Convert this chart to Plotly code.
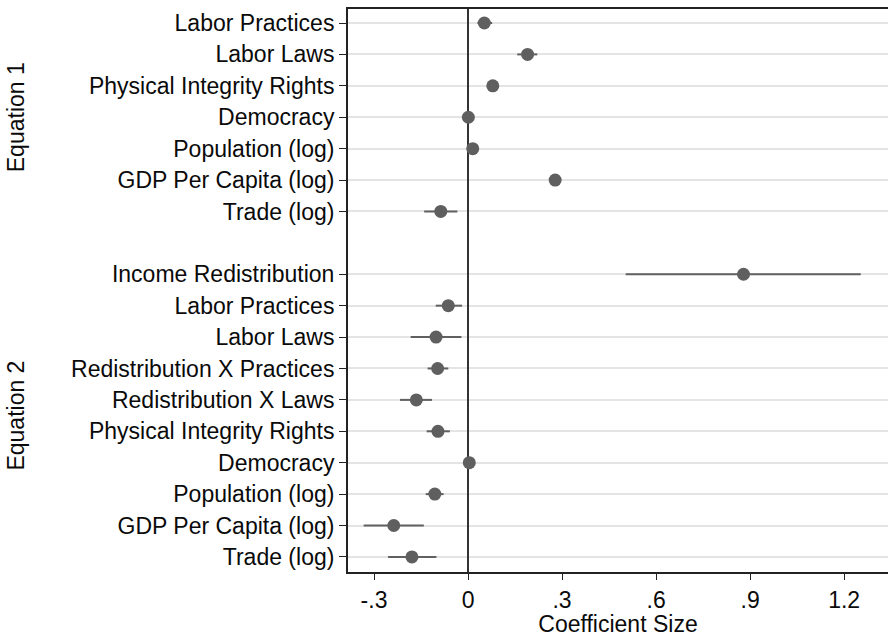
import plotly.graph_objects as go

# ---- data ----
eq1_labels = ["Labor Practices", "Labor Laws", "Physical Integrity Rights", "Democracy",
              "Population (log)", "GDP Per Capita (log)", "Trade (log)"]
eq1_coef = [0.052, 0.190, 0.079, 0.001, 0.015, 0.278, -0.087]
eq1_lo = [0.030, 0.157, 0.066, -0.004, 0.008, 0.270, -0.140]
eq1_hi = [0.077, 0.221, 0.093, 0.006, 0.022, 0.286, -0.034]

eq2_labels = ["Income Redistribution", "Labor Practices", "Labor Laws",
              "Redistribution X Practices", "Redistribution X Laws",
              "Physical Integrity Rights", "Democracy", "Population (log)",
              "GDP Per Capita (log)", "Trade (log)"]
eq2_coef = [0.879, -0.063, -0.102, -0.097, -0.165, -0.096, 0.004, -0.106, -0.237, -0.179]
eq2_lo = [0.503, -0.103, -0.183, -0.129, -0.217, -0.132, 0.000, -0.135, -0.333, -0.255]
eq2_hi = [1.253, -0.019, -0.021, -0.063, -0.115, -0.058, 0.008, -0.078, -0.141, -0.101]

x_tickvals = [-0.3, 0, 0.3, 0.6, 0.9, 1.2]
x_ticktext = ["-.3", "0", ".3", ".6", ".9", "1.2"]

# ---- assemble rows (gap of one slot between equations) ----
labels = eq1_labels + eq2_labels
coef = eq1_coef + eq2_coef
lo = eq1_lo + eq2_lo
hi = eq1_hi + eq2_hi
ypos = list(range(len(eq1_labels))) + [len(eq1_labels) + 1 + i for i in range(len(eq2_labels))]

err_plus = [h - c for h, c in zip(hi, coef)]
err_minus = [c - l for c, l in zip(coef, lo)]

FONT = "Liberation Sans, Arial, Helvetica, sans-serif"
TXT = "#0a0a0a"
FS = 23

fig = go.Figure()
fig.add_trace(go.Scatter(
    x=coef, y=ypos, mode="markers",
    marker=dict(size=13, color="#5f5f5f"),
    error_x=dict(type="data", symmetric=False, array=err_plus, arrayminus=err_minus,
                 width=0, thickness=2, color="#606060"),
    showlegend=False, hoverinfo="skip",
))

n = ypos[-1]
fig.update_layout(
    width=888, height=637,
    margin=dict(l=348, r=0, t=9, b=65),
    paper_bgcolor="white", plot_bgcolor="white",
    font=dict(family=FONT, size=FS, color=TXT),
    xaxis=dict(
        range=[-0.383, 1.34],
        tickvals=x_tickvals, ticktext=x_ticktext,
        ticks="outside", ticklen=6, tickwidth=1.3, tickcolor="#222",
        showgrid=False,
        zeroline=True, zerolinecolor="#333333", zerolinewidth=2,
        showline=True, linecolor="#222222", linewidth=2, mirror=True,
        title=dict(text="Coefficient Size", standoff=0, font=dict(size=FS, color=TXT)),
        tickfont=dict(size=FS, color=TXT),
    ),
    yaxis=dict(
        range=[n + 0.48, -0.446],
        tickvals=ypos, ticktext=labels,
        ticks="outside", ticklen=7, tickwidth=1.3, tickcolor="#222",
        showgrid=True, gridcolor="#e4e4e4", gridwidth=1.6,
        zeroline=False,
        showline=True, linecolor="#222222", linewidth=2, mirror=False,
        tickfont=dict(size=FS, color=TXT),
    ),
)

eq1_mid = (ypos[0] + ypos[len(eq1_labels) - 1]) / 2
eq2_mid = (ypos[len(eq1_labels)] + ypos[-1]) / 2
for txt, ymid in [("Equation 1", eq1_mid), ("Equation 2", eq2_mid)]:
    fig.add_annotation(
        text=txt, xref="paper", yref="y", x=(16 - 348) / 540, y=ymid,
        textangle=-90, showarrow=False, xanchor="center", yanchor="middle",
        font=dict(size=FS, color=TXT, family=FONT),
    )

fig.write_html("out.html", config={"displayModeBar": False},
               post_script="document.body.style.margin='0';document.body.style.overflow='hidden';")
